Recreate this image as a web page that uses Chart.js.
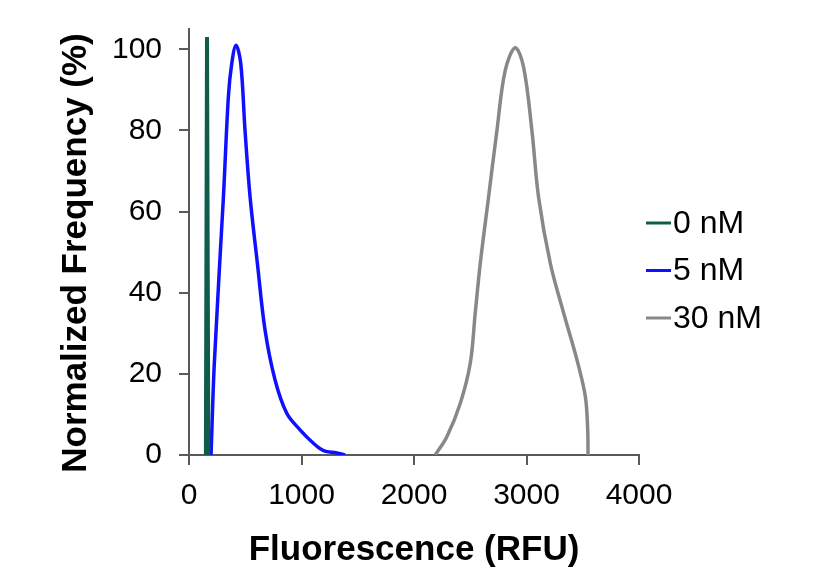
<!DOCTYPE html>
<html>
<head>
<meta charset="utf-8">
<script src="https://cdn.jsdelivr.net/npm/chart.js@4"></script>
<style>
    html, body { margin: 0; padding: 0; background: #fff; }
    #wrap { width: 819px; height: 568px; }
</style>
</head>
<body>
<div id="wrap"><canvas id="histChart" width="819" height="568"></canvas></div>
<script>
// 0 nM
const x0 = [150, 160, 172];
const y0 = [0, 103, 0];

// 5 nM
const x5 = [196, 225, 306, 350, 380, 418, 460, 498, 543, 608, 676, 765, 869, 987, 1106, 1195, 1314, 1388];
const y5 = [0, 22.6, 63.6, 88.3, 96.5, 101, 96.5, 80, 63.6, 47.2, 30.8, 18.5, 10.3, 6.2, 2.9, 1.1, 0.5, 0];

// 30 nM
const x30 = [2189, 2292, 2411, 2500, 2544, 2589, 2663, 2737, 2811, 2900, 2974, 3048, 3107, 3212, 3331, 3449, 3523, 3544, 3547];
const y30 = [0, 4.5, 12.7, 22.6, 34.9, 47.2, 63.6, 80, 94.8, 100.4, 95.6, 80, 63.6, 47.2, 34.9, 23.4, 14.4, 6.2, 0];

const seriesLabels = ['0 nM', '5 nM', '30 nM'];
const xTicks = [0, 1000, 2000, 3000, 4000];
const yTicks = [0, 20, 40, 60, 80, 100];
const xTitle = 'Fluorescence (RFU)';
const yTitle = 'Normalized Frequency (%)';

function toPoints(xs, ys) {
    return xs.map((x, i) => ({x: x, y: ys[i]}));
}

const axisColor = '#5a5a5a';
const fontFamily = '"Liberation Sans", Arial, sans-serif';

// legend drawn next to the plot: short line then label, no gap
const sideLegend = {
    id: 'sideLegend',
    afterDraw(chart) {
        const ctx = chart.ctx;
        const left = 646;
        const top = 223;
        const step = 47.5;
        ctx.save();
        ctx.font = '32px ' + fontFamily;
        ctx.textBaseline = 'middle';
        ctx.fillStyle = '#000';
        chart.data.datasets.forEach(function (ds, i) {
            const y = top + i * step;
            ctx.strokeStyle = ds.borderColor;
            ctx.lineWidth = 3;
            ctx.beginPath();
            ctx.moveTo(left, y);
            ctx.lineTo(left + 25, y);
            ctx.stroke();
            ctx.fillText(ds.label, left + 27, y + 1);
        });
        ctx.restore();
    }
};

// y title sits a bit lower than the plot centre in the original
const yAxisTitle = {
    id: 'yAxisTitle',
    afterDraw(chart) {
        const ctx = chart.ctx;
        ctx.save();
        ctx.translate(76, 253);
        ctx.rotate(-Math.PI / 2);
        ctx.font = 'bold 35px ' + fontFamily;
        ctx.textAlign = 'center';
        ctx.textBaseline = 'middle';
        ctx.fillStyle = '#000';
        ctx.fillText(yTitle, 0, 0);
        ctx.restore();
    }
};

const data = {
    datasets: [{
        label: seriesLabels[0],
        data: toPoints(x0, y0),
        borderColor: '#0e5c4a',
        borderWidth: 4,
        tension: 0
    }, {
        label: seriesLabels[1],
        data: toPoints(x5, y5),
        borderColor: '#1010ff',
        borderWidth: 3.5,
        tension: 0.35
    }, {
        label: seriesLabels[2],
        data: toPoints(x30, y30),
        borderColor: '#888888',
        borderWidth: 3.5,
        tension: 0.35
    }]
};

const options = {
    responsive: false,
    animation: false,
    layout: {
        padding: {left: 0, right: 180, top: 29, bottom: 0}
    },
    elements: {
        point: {radius: 0}
    },
    scales: {
        x: {
            type: 'linear',
            min: 0,
            max: 4000,
            afterBuildTicks: function (scale) {
                scale.ticks = xTicks.map(v => ({value: v}));
            },
            afterFit: function (scale) {
                scale.height = 113;
            },
            border: {color: axisColor, width: 2},
            grid: {drawOnChartArea: false, color: axisColor, lineWidth: 2, tickLength: 10},
            ticks: {
                color: '#000', padding: 13, maxRotation: 0,
                font: {size: 30, family: fontFamily},
                callback: value => String(value)
            },
            title: {
                display: true,
                text: xTitle,
                color: '#000',
                padding: {top: 0, bottom: 0},
                font: {size: 35, weight: 'bold', family: fontFamily, lineHeight: 1.0}
            }
        },
        y: {
            min: 0,
            max: 105,
            afterBuildTicks: function (scale) {
                scale.ticks = yTicks.map(v => ({value: v}));
            },
            afterFit: function (scale) {
                scale.width = 189;
                scale.paddingTop = 0;
            },
            border: {color: axisColor, width: 2},
            grid: {drawOnChartArea: false, color: axisColor, lineWidth: 2, tickLength: 10},
            ticks: {
                color: '#000', padding: 17,
                font: {size: 30, family: fontFamily},
                callback: value => String(value)
            },
            title: {display: false}
        }
    },
    plugins: {
        legend: {display: false},
        tooltip: {enabled: false}
    }
};

new Chart(document.getElementById('histChart').getContext('2d'), {
    type: 'line',
    data: data,
    options: options,
    plugins: [sideLegend, yAxisTitle]
});
</script>
</body>
</html>
